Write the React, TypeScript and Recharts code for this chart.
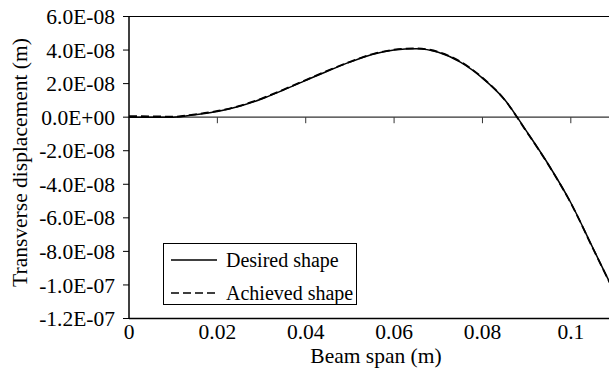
import { LineChart, Line, XAxis, YAxis, ReferenceLine, Legend } from "recharts";

// beam span positions (m) and transverse displacement (m)
const beamSpan = [
  0, 0.005, 0.01, 0.015, 0.02, 0.025, 0.03, 0.035, 0.04, 0.045, 0.05, 0.055,
  0.06, 0.065, 0.07, 0.075, 0.08, 0.085, 0.09, 0.095, 0.1, 0.105, 0.11,
];
const desiredShape = [
  0, 0, 0, 1.5e-9, 3.4e-9, 6.5e-9, 1.08e-8, 1.62e-8, 2.19e-8, 2.75e-8, 3.28e-8,
  3.73e-8, 4.0e-8, 4.08e-8, 3.87e-8, 3.28e-8, 2.33e-8, 1.05e-8, -8.5e-9,
  -2.85e-8, -5.1e-8, -7.8e-8, -1.05e-7,
];
const achievedShape = [
  6e-10, 5e-10, 3e-10, 1.7e-9, 3.7e-9, 6.7e-9, 1.11e-8, 1.65e-8, 2.21e-8,
  2.78e-8, 3.3e-8, 3.75e-8, 4.02e-8, 4.1e-8, 3.89e-8, 3.31e-8, 2.35e-8,
  1.04e-8, -8.7e-9, -2.87e-8, -5.12e-8, -7.82e-8, -1.051e-7,
];
const xTicks = [0, 0.02, 0.04, 0.06, 0.08, 0.1];
const yTicks = [6e-8, 4e-8, 2e-8, 0, -2e-8, -4e-8, -6e-8, -8e-8, -1e-7, -1.2e-7];

const data = beamSpan.map((x, i) => ({
  x,
  desired: desiredShape[i],
  achieved: achievedShape[i],
}));

const font = "'Liberation Serif', 'Times New Roman', serif";
const axisFont = 21.5;

const fmtSci = (v: number) => {
  const [m, e] = v.toExponential(1).split("e");
  const n = Number(e);
  return `${m}E${n < 0 ? "-" : "+"}${String(Math.abs(n)).padStart(2, "0")}`;
};

function LegendBox(props: any) {
  // solid (desired) first, then dashed (achieved)
  const items = [...(props.payload || [])].sort(
    (a: any, b: any) =>
      (a.payload && a.payload.strokeDasharray ? 1 : 0) -
      (b.payload && b.payload.strokeDasharray ? 1 : 0)
  );
  return (
    <div
      style={{
        width: 192,
        height: 60,
        border: "1px solid #000",
        background: "#fff",
        fontFamily: font,
        fontSize: 20,
        color: "#000",
      }}
    >
      {items.map((it: any, i: number) => (
        <div
          key={i}
          style={{ display: "flex", alignItems: "center", height: 30, marginTop: i === 0 ? 1 : 3 }}
        >
          <svg width={62} height={10} style={{ flex: "none" }}>
            <line
              x1={7}
              x2={53}
              y1={5}
              y2={5}
              stroke="#000"
              strokeWidth={1.5}
              strokeDasharray={it.payload && it.payload.strokeDasharray}
            />
          </svg>
          <span style={{ whiteSpace: "nowrap" }}>{it.value}</span>
        </div>
      ))}
    </div>
  );
}

export default function App() {
  return (
    <div
      style={{
        position: "absolute",
        left: 0,
        top: 0,
        width: 609,
        height: 376,
        overflow: "hidden",
        background: "#fff",
        fontFamily: font,
      }}
    >
      <LineChart
        width={615}
        height={376}
        data={data}
        margin={{ top: 16.5, right: 0, bottom: 0, left: 0 }}
      >
        <XAxis
          dataKey="x"
          type="number"
          domain={[0, 0.11]}
          ticks={xTicks}
          allowDataOverflow
          height={57.5}
          tickLine={false}
          tickSize={0}
          tickMargin={5}
          axisLine={{ stroke: "#000", strokeWidth: 1.5 }}
          tick={{ fill: "#000", fontSize: axisFont, fontFamily: font }}
          tickFormatter={(v: number) => String(v)}
          label={{
            value: "Beam span (m)",
            position: "insideBottom",
            offset: 13,
            dx: 4,
            fill: "#000",
            fontSize: axisFont,
            fontFamily: font,
          }}
        />
        <YAxis
          type="number"
          domain={[-1.2e-7, 6e-8]}
          ticks={yTicks}
          interval={0}
          width={129}
          tickSize={6}
          tickMargin={8}
          axisLine={{ stroke: "#000", strokeWidth: 1.5 }}
          tickLine={{ stroke: "#000", strokeWidth: 1 }}
          tick={{ fill: "#000", fontSize: axisFont, fontFamily: font }}
          tickFormatter={fmtSci}
          label={{
            value: "Transverse displacement (m)",
            angle: -90,
            position: "insideLeft",
            offset: 19,
            dy: -5,
            style: { textAnchor: "middle" },
            fill: "#000",
            fontSize: axisFont,
            fontFamily: font,
          }}
        />
        <ReferenceLine y={6e-8} stroke="#000" strokeWidth={1.2} />
        <ReferenceLine x={0.11} stroke="#000" strokeWidth={1.2} />
        <ReferenceLine y={0} stroke="#333" strokeWidth={1.2} />
        {xTicks.slice(1).map((t) => (
          <ReferenceLine
            key={t}
            segment={[
              { x: t, y: 0 },
              { x: t, y: -3.6e-9 },
            ]}
            stroke="#333"
            strokeWidth={1}
          />
        ))}
        <Legend
          layout="vertical"
          verticalAlign="middle"
          align="center"
          content={<LegendBox />}
          wrapperStyle={{ left: 163, top: 243, width: 194, height: 62 }}
        />
        <Line
          type="monotone"
          dataKey="achieved"
          name="Achieved shape"
          stroke="#000"
          strokeWidth={1.8}
          strokeDasharray="8 4"
          dot={false}
          isAnimationActive={false}
        />
        <Line
          type="monotone"
          dataKey="desired"
          name="Desired shape"
          stroke="#000"
          strokeWidth={1.5}
          dot={false}
          isAnimationActive={false}
        />
      </LineChart>
    </div>
  );
}
